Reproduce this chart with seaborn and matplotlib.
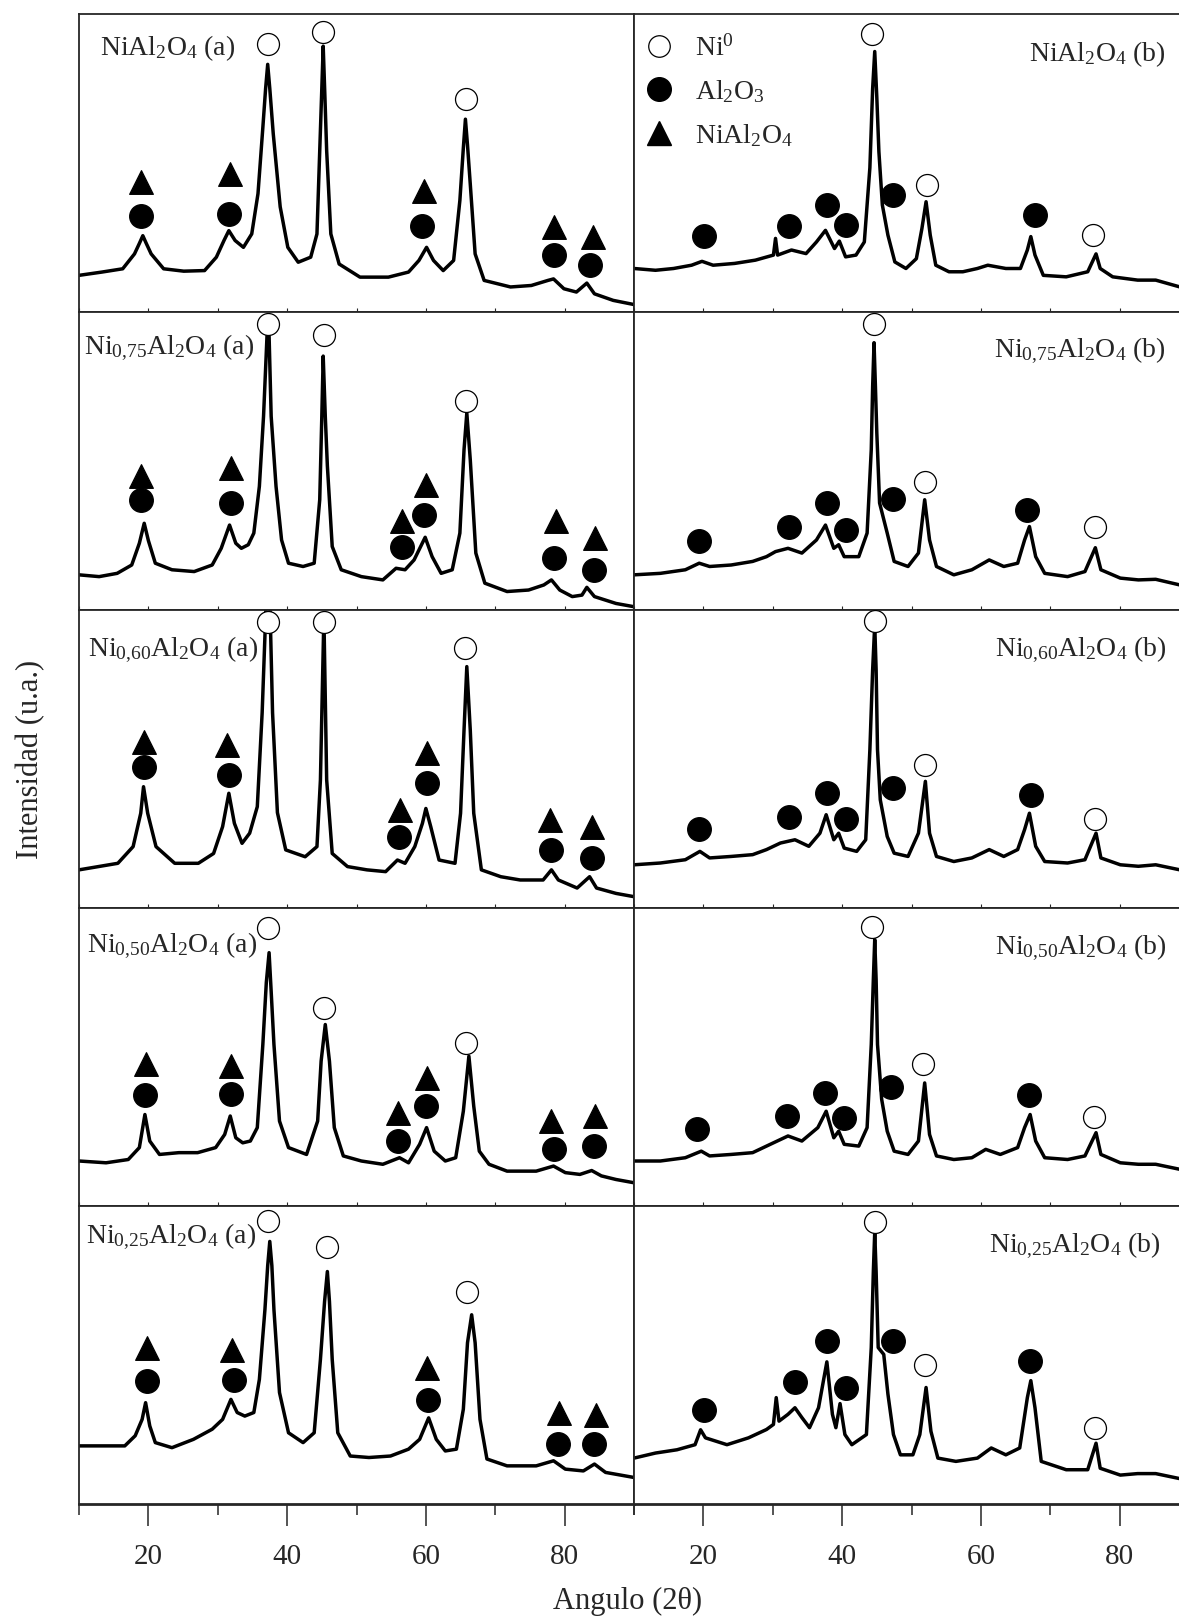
import numpy as np
import pandas as pd
import matplotlib
matplotlib.use("Agg")
import matplotlib.pyplot as plt
from matplotlib.lines import Line2D
import seaborn as sns

# ---------------- data (2theta, intensity in u.a.) ----------------
ROW_LABELS_A = [r"NiAl$_2$O$_4$ (a)", r"Ni$_{0{,}75}$Al$_2$O$_4$ (a)", r"Ni$_{0{,}60}$Al$_2$O$_4$ (a)",
                r"Ni$_{0{,}50}$Al$_2$O$_4$ (a)", r"Ni$_{0{,}25}$Al$_2$O$_4$ (a)"]
ROW_LABELS_B = [r"NiAl$_2$O$_4$ (b)", r"Ni$_{0{,}75}$Al$_2$O$_4$ (b)", r"Ni$_{0{,}60}$Al$_2$O$_4$ (b)",
                r"Ni$_{0{,}50}$Al$_2$O$_4$ (b)", r"Ni$_{0{,}25}$Al$_2$O$_4$ (b)"]
LABEL_A_X = [13.0, 10.7, 11.3, 11.2, 11.0]
LABEL_A_Y = [88.4, 88.0, 86.6, 87.2, 89.5]
LABEL_B_X = [86.6, 86.6, 86.8, 86.8, 85.9]
LABEL_B_Y = [86.5, 87.0, 86.6, 86.6, 86.7]

# ---- Row 1 (NiAl2O4) ----
A1_X = [10.0, 13.3, 16.3, 18.0, 18.7, 19.2, 19.7, 20.4, 22.2, 25.1, 28.1, 29.8, 30.9, 31.6, 32.5, 33.7, 34.9,
        35.8, 36.5, 36.9, 37.2, 37.5, 38.0, 39.0, 40.1, 41.6, 43.4, 44.3, 44.7, 45.0, 45.2, 45.45, 45.7, 46.3,
        47.5, 50.5, 54.6, 57.5, 59.0, 60.1, 61.1, 62.5, 64.0, 64.9, 65.4, 65.7, 66.0, 66.4, 67.1, 68.4, 72.2,
        75.2, 77.6, 78.4, 79.9, 81.7, 83.2, 84.3, 87.0, 90.0]
A1_Y = [12.3, 13.4, 14.5, 19.5, 23.0, 25.6, 23.0, 19.5, 14.5, 13.7, 13.9, 18.4, 24.0, 27.3, 24.0, 21.7, 26.2,
        39.7, 61.9, 75.0, 83.1, 75.0, 59.8, 35.3, 21.7, 16.7, 18.4, 26.2, 54.1, 75.0, 89.2, 72.0, 54.1, 26.2,
        16.1, 11.7, 11.7, 13.4, 17.3, 21.7, 17.3, 13.9, 17.3, 37.4, 55.0, 64.7, 56.0, 42.9, 19.5, 10.6, 8.4,
        8.9, 10.6, 11.1, 7.8, 6.7, 9.7, 6.1, 3.9, 2.5]
B1_X = [10.0, 13.1, 15.7, 18.3, 19.8, 21.4, 24.5, 27.5, 30.1, 30.4, 30.7, 32.7, 34.8, 36.3, 37.6, 38.9, 39.6,
        40.5, 42.0, 43.2, 44.0, 44.4, 44.7, 45.0, 45.3, 45.8, 46.6, 47.6, 49.2, 50.7, 51.5, 52.1, 52.7, 53.5,
        55.4, 57.4, 59.5, 61.0, 63.6, 65.7, 66.7, 67.2, 67.8, 69.0, 72.3, 75.4, 76.6, 77.2, 79.0, 82.6, 85.2,
        88.7, 90.0]
B1_Y = [14.6, 14.0, 14.6, 15.7, 17.0, 15.7, 16.3, 17.4, 19.1, 24.7, 19.1, 20.8, 19.6, 23.5, 27.4, 21.3, 23.8,
        18.5, 19.1, 23.5, 48.4, 75.0, 87.4, 72.0, 53.8, 35.9, 25.8, 16.8, 14.6, 17.9, 28.0, 37.0, 25.8, 15.7,
        13.5, 13.5, 14.6, 15.7, 14.6, 14.6, 20.8, 25.3, 19.1, 12.3, 11.8, 13.5, 19.5, 14.6, 11.8, 10.7, 10.7,
        8.4, 8.0]

# ---- Row 2 (Ni0,75Al2O4) ----
A2_X = [10.0, 12.9, 15.5, 17.6, 18.7, 19.4, 20.0, 21.0, 23.4, 26.6, 29.2, 30.5, 31.7, 32.6, 33.4, 34.4, 35.2,
        36.0, 36.6, 37.1, 37.4, 37.7, 38.4, 39.2, 40.2, 42.3, 43.9, 44.7, 45.0, 45.2, 45.5, 45.8, 46.5, 47.8,
        50.7, 53.8, 55.7, 57.0, 58.3, 59.9, 60.9, 62.2, 63.8, 64.9, 65.5, 65.9, 66.4, 67.2, 68.5, 71.7, 74.8,
        77.0, 78.1, 79.3, 81.1, 82.5, 83.2, 84.3, 87.4, 90.0]
A2_Y = [11.8, 11.2, 12.3, 15.1, 22.4, 29.1, 23.3, 15.7, 13.5, 12.9, 15.1, 20.7, 28.5, 22.4, 20.7, 21.9, 25.8,
        41.5, 65.0, 92.0, 92.0, 65.0, 41.5, 23.5, 15.7, 14.6, 15.7, 37.0, 65.0, 85.2, 65.0, 48.4, 21.3, 13.5,
        11.2, 10.1, 14.0, 13.5, 16.8, 24.4, 17.9, 12.3, 13.5, 25.8, 53.8, 66.1, 50.4, 19.1, 9.0, 6.2, 6.7,
        8.4, 10.1, 6.7, 4.5, 5.0, 7.6, 4.5, 2.2, 1.1]
B2_X = [10.0, 13.8, 17.4, 19.4, 20.9, 24.0, 27.1, 29.1, 30.4, 32.2, 34.2, 36.3, 37.6, 38.8, 39.5, 40.3, 42.4,
        43.6, 44.2, 44.4, 44.6, 44.8, 45.0, 45.4, 46.5, 47.5, 49.5, 51.0, 51.9, 52.6, 53.6, 56.1, 58.7, 61.2,
        63.3, 65.3, 66.3, 67.0, 67.9, 69.2, 72.5, 75.0, 76.5, 77.3, 80.1, 82.7, 85.2, 88.7, 90.0]
B2_Y = [11.8, 12.3, 13.5, 15.7, 14.6, 15.1, 16.3, 17.9, 19.6, 20.7, 19.1, 23.5, 28.5, 20.7, 21.9, 17.9, 17.9,
        25.8, 53.8, 75.0, 89.7, 75.0, 59.4, 35.9, 25.8, 16.3, 14.6, 19.1, 37.0, 23.5, 14.6, 11.8, 13.5, 16.8,
        14.6, 15.7, 23.5, 28.0, 17.9, 12.3, 11.2, 12.9, 20.9, 13.5, 10.7, 10.1, 10.3, 8.4, 8.0]

# ---- Row 3 (Ni0,60Al2O4) ----
A3_X = [10.0, 12.8, 15.6, 17.8, 18.9, 19.3, 19.9, 21.1, 23.8, 27.2, 29.4, 30.7, 31.6, 32.4, 33.5, 34.6, 35.7,
        36.4, 37.0, 37.5, 37.9, 38.6, 39.8, 42.6, 44.3, 44.8, 45.3, 45.7, 46.5, 48.7, 51.5, 54.2, 55.9, 57.0,
        58.4, 59.5, 60.0, 60.7, 61.9, 64.2, 65.0, 65.5, 65.9, 66.4, 66.9, 68.0, 70.8, 73.6, 76.9, 78.1, 79.1,
        81.8, 83.6, 84.6, 87.4, 90.0]
A3_Y = [12.8, 13.9, 15.0, 20.6, 31.8, 40.7, 31.8, 20.6, 15.0, 15.0, 18.3, 27.3, 38.5, 28.4, 21.7, 25.1, 34.0,
        65.5, 104.0, 104.0, 65.5, 32.0, 19.5, 17.2, 20.6, 43.0, 98.0, 43.0, 18.3, 13.9, 12.8, 12.2, 16.1, 15.0,
        20.6, 28.4, 33.4, 27.3, 16.1, 15.0, 31.8, 59.7, 81.0, 59.7, 31.8, 12.8, 10.5, 9.4, 9.4, 12.8, 9.4,
        6.7, 10.5, 6.7, 4.9, 3.8]
B3_X = [10.0, 13.8, 17.4, 19.5, 20.9, 24.0, 27.1, 29.1, 31.1, 33.2, 35.2, 36.8, 37.7, 38.8, 39.5, 40.3, 42.1,
        43.4, 44.0, 44.4, 44.7, 44.9, 45.1, 45.5, 46.5, 47.5, 49.5, 51.0, 52.0, 52.6, 53.6, 56.1, 58.7, 61.2,
        63.3, 65.3, 66.3, 67.0, 67.9, 69.2, 72.5, 75.0, 76.6, 77.3, 80.1, 82.7, 85.2, 88.7, 90.0]
B3_Y = [14.5, 15.1, 16.2, 19.0, 16.8, 17.3, 17.9, 19.6, 21.8, 22.9, 20.7, 25.1, 31.3, 22.9, 25.1, 20.1, 19.0,
        22.9, 53.1, 80.0, 95.0, 80.0, 53.1, 36.3, 24.0, 18.4, 17.3, 25.1, 42.5, 25.1, 17.3, 15.6, 16.8, 19.6,
        17.3, 19.6, 26.3, 31.8, 20.7, 15.6, 15.1, 16.2, 25.1, 16.8, 14.5, 14.0, 14.5, 12.8, 12.5]

# ---- Row 4 (Ni0,50Al2O4) ----
A4_X = [10.0, 13.9, 17.1, 18.7, 19.5, 20.2, 21.6, 24.4, 27.1, 29.7, 31.0, 31.8, 32.6, 33.6, 34.7, 35.7, 36.5,
        37.0, 37.4, 37.7, 38.1, 38.9, 40.2, 42.8, 44.4, 44.9, 45.5, 46.1, 46.8, 48.1, 50.7, 53.8, 56.2, 57.5,
        59.1, 60.1, 61.2, 62.8, 64.3, 65.4, 66.2, 66.9, 67.7, 69.1, 71.7, 75.9, 78.4, 80.1, 82.2, 83.9, 85.3,
        87.4, 90.0]
A4_Y = [15.1, 14.5, 15.6, 19.6, 30.7, 21.8, 17.3, 17.9, 17.9, 19.6, 24.0, 30.2, 22.9, 21.2, 21.8, 26.3, 54.2,
        75.0, 85.0, 72.0, 54.2, 28.5, 19.6, 17.3, 28.5, 48.6, 60.9, 48.6, 26.3, 16.8, 15.1, 14.0, 16.2, 14.5,
        20.7, 26.3, 18.4, 15.1, 16.2, 31.8, 50.3, 33.5, 18.4, 14.0, 11.7, 11.7, 13.4, 11.2, 10.6, 11.9, 10.1,
        8.9, 7.8]
B4_X = [10.0, 13.8, 17.4, 19.7, 20.9, 24.0, 27.1, 30.1, 32.2, 34.2, 36.5, 37.7, 38.8, 39.5, 40.3, 42.4, 43.6,
        44.2, 44.5, 44.7, 44.9, 45.1, 45.7, 46.5, 47.5, 49.5, 51.0, 51.9, 52.6, 53.6, 56.1, 58.7, 60.7, 62.8,
        65.3, 66.3, 67.1, 67.9, 69.2, 72.5, 75.0, 76.6, 77.3, 80.1, 82.7, 85.2, 88.7, 90.0]
B4_Y = [15.1, 15.1, 16.2, 18.4, 16.8, 17.3, 17.9, 21.2, 23.5, 21.8, 26.3, 31.8, 22.9, 25.1, 20.7, 20.1, 26.3,
        54.2, 76.0, 89.4, 76.0, 54.2, 35.8, 25.1, 18.4, 17.3, 21.8, 41.3, 24.0, 16.8, 15.6, 16.2, 19.0, 17.3,
        19.6, 26.3, 30.7, 21.8, 16.2, 15.6, 16.8, 24.6, 17.3, 14.5, 14.0, 14.0, 12.3, 12.0]

# ---- Row 5 (Ni0,25Al2O4) ----
A5_X = [10.0, 12.9, 16.6, 18.1, 19.1, 19.6, 20.2, 21.0, 23.4, 26.5, 29.2, 30.7, 31.9, 32.8, 33.9, 35.2, 36.0,
        36.8, 37.2, 37.5, 37.8, 38.1, 38.9, 40.2, 42.3, 43.9, 44.8, 45.4, 45.8, 46.1, 46.5, 47.3, 49.1, 51.8,
        54.9, 57.5, 59.1, 60.4, 61.5, 62.8, 64.4, 65.4, 66.0, 66.6, 67.1, 67.8, 68.8, 71.7, 75.9, 78.4, 80.1,
        82.7, 84.3, 85.9, 90.0]
A5_Y = [19.5, 19.5, 19.5, 22.9, 28.4, 34.0, 26.2, 20.6, 18.9, 21.7, 25.1, 28.4, 35.1, 30.7, 29.5, 30.7, 41.8,
        65.2, 80.0, 88.1, 80.0, 65.2, 37.4, 23.9, 20.6, 23.9, 48.5, 68.0, 78.0, 68.0, 48.5, 23.9, 16.1, 15.6,
        16.1, 18.4, 21.7, 28.9, 21.7, 17.8, 18.4, 31.8, 54.1, 63.5, 54.1, 28.4, 15.1, 12.8, 12.8, 14.5, 11.7,
        11.1, 13.4, 10.6, 8.9]
B5_X = [10.0, 13.1, 16.2, 18.8, 19.6, 20.3, 23.4, 26.5, 29.1, 30.1, 30.5, 30.9, 32.2, 33.2, 34.2, 35.3, 36.6,
        37.8, 38.6, 39.1, 39.7, 40.4, 41.4, 43.5, 44.2, 44.5, 44.7, 44.9, 45.2, 46.0, 46.6, 47.4, 48.4, 50.2,
        51.2, 52.1, 52.8, 53.8, 56.4, 59.5, 61.5, 63.6, 65.6, 66.7, 67.2, 67.8, 68.7, 72.3, 75.4, 76.6, 77.2,
        80.1, 82.6, 85.2, 88.7, 90.0]
B5_Y = [15.4, 17.1, 18.2, 19.9, 24.9, 22.2, 19.9, 22.2, 25.0, 26.7, 35.7, 27.8, 30.1, 32.3, 29.0, 25.6, 32.3,
        47.7, 30.1, 25.6, 33.7, 23.3, 19.9, 23.3, 52.5, 78.0, 91.2, 78.0, 52.5, 50.2, 36.9, 23.3, 16.5, 16.5,
        23.3, 39.1, 24.4, 15.4, 14.3, 15.4, 18.8, 16.5, 18.8, 35.7, 41.4, 32.3, 14.3, 11.5, 11.5, 20.4, 12.0,
        9.7, 10.2, 10.2, 8.5, 8.2]

# ---- phase markers per panel: (2theta, height) ----
NI0_A = [[(37.3, 90.0), (45.1, 93.9), (65.8, 71.6)],
         [(37.3, 95.9), (45.3, 92.2), (65.8, 70.1)],
         [(37.3, 96.1), (45.3, 96.1), (65.7, 87.1)],
         [(37.2, 93.3), (45.3, 66.5), (65.8, 54.7)],
         [(37.3, 94.8), (45.8, 86.2), (65.9, 71.0)]]
AL2O3_A = [[(18.9, 32.3), (31.6, 32.9), (59.5, 29.0), (78.4, 19.1), (83.7, 15.8)],
           [(19.0, 37.0), (31.9, 35.9), (56.5, 21.3), (59.8, 32.0), (78.5, 17.4), (84.3, 13.5)],
           [(19.4, 47.4), (31.6, 44.6), (56.1, 23.7), (60.2, 41.8), (78.0, 19.5), (83.9, 16.7)],
           [(19.5, 37.4), (31.9, 37.7), (56.0, 21.8), (60.0, 33.5), (78.4, 19.0), (84.3, 20.1)],
           [(19.8, 41.2), (32.4, 41.6), (60.3, 34.9), (79.1, 20.1), (84.3, 20.1)]]
SPINEL_A = [[(18.9, 43.5), (31.7, 46.2), (59.8, 40.7), (78.5, 28.6), (84.1, 25.3)],
            [(19.0, 44.8), (31.9, 47.6), (56.6, 30.0), (60.0, 41.8), (78.8, 29.7), (84.4, 24.1)],
            [(19.3, 55.8), (31.4, 54.7), (56.2, 32.9), (60.2, 51.9), (77.9, 29.5), (84.0, 27.3)],
            [(19.6, 47.5), (31.9, 46.9), (56.0, 31.3), (60.1, 43.0), (78.1, 28.5), (84.4, 30.2)],
            [(19.8, 52.2), (32.1, 51.8), (60.1, 45.5), (79.2, 30.4), (84.5, 29.8)]]
NI0_B = [[(44.3, 93.4), (52.3, 42.6), (76.1, 25.8)],
         [(44.6, 95.9), (51.9, 42.8), (76.5, 27.7)],
         [(44.7, 96.4), (51.9, 48.0), (76.4, 29.9)],
         [(44.3, 93.6), (51.7, 47.8), (76.3, 29.9)],
         [(44.8, 94.6), (52.0, 46.8), (76.4, 25.6)]]
AL2O3_B = [[(20.1, 25.6), (32.3, 28.9), (37.8, 35.9), (40.6, 29.1), (47.3, 39.2), (67.8, 32.5)],
           [(19.4, 23.3), (32.3, 27.7), (37.8, 35.9), (40.6, 26.9), (47.3, 37.3), (66.7, 33.6)],
           [(19.4, 26.6), (32.3, 30.7), (37.8, 38.5), (40.6, 29.9), (47.3, 40.2), (67.2, 37.8)],
           [(19.1, 25.7), (32.1, 30.2), (37.6, 38.0), (40.3, 29.4), (47.1, 39.9), (66.9, 37.1)],
           [(20.1, 31.6), (33.2, 40.8), (37.8, 54.6), (40.6, 38.9), (47.3, 54.6), (67.1, 47.9)]]

LEGEND_LABELS = [r"Ni$^0$", r"Al$_2$O$_3$", r"NiAl$_2$O$_4$"]
X_TICKS = [20, 40, 60, 80]
X_MINOR = [10, 30, 50, 70, 90]

TRACES_A = [(A1_X, A1_Y), (A2_X, A2_Y), (A3_X, A3_Y), (A4_X, A4_Y), (A5_X, A5_Y)]
TRACES_B = [(B1_X, B1_Y), (B2_X, B2_Y), (B3_X, B3_Y), (B4_X, B4_Y), (B5_X, B5_Y)]

# ---------------- style ----------------
sns.set_style("ticks")
plt.rcParams["font.family"] = ["Liberation Serif", "DejaVu Serif"]
plt.rcParams["mathtext.fontset"] = "custom"
plt.rcParams["mathtext.rm"] = "Liberation Serif"
plt.rcParams["mathtext.it"] = "Liberation Serif:italic"
plt.rcParams["mathtext.bf"] = "Liberation Serif:bold"
plt.rcParams["axes.linewidth"] = 1.2

W, H = 1179, 1619
fig = plt.figure(figsize=(W / 100, H / 100), dpi=100)

left_px = [79, 634]
width_px = 555
top_px, bot_px = 14, 1504
row_h = (bot_px - top_px) / 5

MS_FILLED = 290
MS_OPEN = 250
MS_TRI = 290


def scatter(ax, pts, marker, face, size, z):
    if not pts:
        return
    df = pd.DataFrame(pts, columns=["x", "y"])
    sns.scatterplot(data=df, x="x", y="y", ax=ax, marker=marker, s=size,
                    color=face, edgecolor="black", linewidth=0.9, zorder=z, legend=False)


for r in range(5):
    for c in range(2):
        top = top_px + r * row_h
        ax = fig.add_axes([left_px[c] / W, 1 - (top + row_h) / H, width_px / W, row_h / H])
        xs, ys = (TRACES_A if c == 0 else TRACES_B)[r]
        sns.lineplot(x=xs, y=ys, ax=ax, color="black", linewidth=2.5, sort=False,
                     estimator=None, legend=False, zorder=2)
        if c == 0:
            scatter(ax, SPINEL_A[r], "^", "black", MS_TRI, 3)
            scatter(ax, AL2O3_A[r], "o", "black", MS_FILLED, 3)
            scatter(ax, NI0_A[r], "o", "white", MS_OPEN, 4)
            ax.text(LABEL_A_X[r], LABEL_A_Y[r], ROW_LABELS_A[r], fontsize=20, ha="left",
                    va="center", zorder=5)
        else:
            scatter(ax, AL2O3_B[r], "o", "black", MS_FILLED, 3)
            scatter(ax, NI0_B[r], "o", "white", MS_OPEN, 4)
            ax.text(LABEL_B_X[r], LABEL_B_Y[r], ROW_LABELS_B[r], fontsize=20, ha="right",
                    va="center", zorder=5)
        ax.set_xlim(10, 90)
        ax.set_ylim(0, 100)
        ax.set_yticks([])
        ax.set_xlabel("")
        ax.set_ylabel("")
        ax.set_xticks(X_TICKS)
        ax.set_xticks(X_MINOR, minor=True)
        for s in ax.spines.values():
            s.set_linewidth(1.3)
        if r == 4:
            ax.spines["bottom"].set_linewidth(2.0)
            ax.tick_params(axis="x", which="major", direction="out", length=16, width=1.1,
                           labelsize=21, pad=13)
            ax.tick_params(axis="x", which="minor", direction="out", length=8, width=1.1)
        else:
            ax.tick_params(axis="x", which="both", direction="in", length=3, width=0.8,
                           labelbottom=False)
        if r == 0 and c == 1:
            handles = [
                Line2D([], [], ls="", marker="o", ms=15.5, mfc="white", mec="black", mew=0.9),
                Line2D([], [], ls="", marker="o", ms=17, mfc="black", mec="black"),
                Line2D([], [], ls="", marker="^", ms=17, mfc="black", mec="black"),
            ]
            ax.legend(handles, LEGEND_LABELS, loc="upper left", bbox_to_anchor=(-0.01, 0.985),
                      frameon=False, fontsize=20, handlelength=1.0, handletextpad=0.8,
                      labelspacing=0.6, borderaxespad=0.2)

fig.text(628 / W, 1 - 1601 / H, "Angulo (2θ)", fontsize=22, ha="center", va="center")
fig.text(31 / W, 1 - 759 / H, "Intensidad (u.a.)", fontsize=22, ha="center", va="center",
         rotation=90)

fig.savefig("out.png", dpi=100)
